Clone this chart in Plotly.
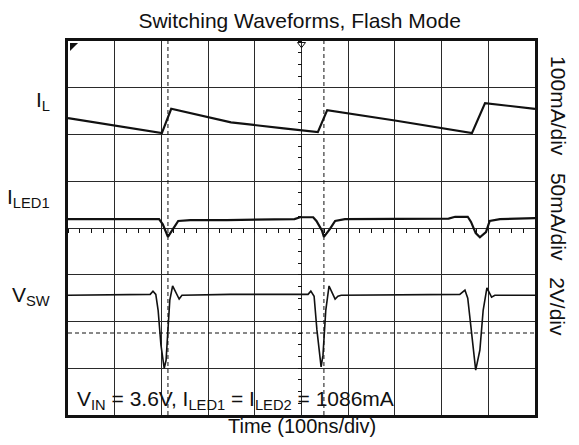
import plotly.graph_objects as go

FONT = "Liberation Sans, Arial, sans-serif"
INK = "#111111"

# screen divisions: 10 across (100ns/div), 8 up
il_t = [0.00, 2.01, 2.21, 3.49, 4.62, 5.35, 5.55, 7.00, 8.65, 8.93, 10.00]
il_v = [6.35, 6.03, 6.55, 6.26, 6.13, 6.05, 6.52, 6.30, 6.03, 6.67, 6.55]

led_t = [0.00, 1.95, 2.03, 2.14, 2.25, 2.36, 2.62, 3.40, 4.85, 4.97, 5.25,
         5.32, 5.44, 5.48, 5.61, 5.72, 5.93, 8.15, 8.29, 8.56, 8.63, 8.73,
         8.82, 8.95, 9.03, 9.25, 10.00]
led_v = [4.19, 4.19, 4.08, 3.81, 3.98, 4.15, 4.17, 4.17, 4.19, 4.23, 4.23,
         4.15, 3.94, 3.81, 3.98, 4.15, 4.19, 4.20, 4.24, 4.24, 4.13, 3.89,
         3.80, 3.91, 4.15, 4.19, 4.21]

sw_t = [0.00, 1.76, 1.82, 1.88, 1.93, 1.99, 2.06, 2.10, 2.14, 2.18, 2.24,
        2.29, 2.36, 2.38, 2.44, 3.47, 5.14, 5.20, 5.27, 5.33, 5.42, 5.46,
        5.52, 5.59, 5.65, 5.72, 5.78, 5.85, 8.39, 8.50, 8.56, 8.65, 8.73,
        8.82, 8.89, 8.97, 9.02, 9.07, 9.14, 10.00]
sw_v = [2.56, 2.58, 2.65, 2.58, 2.24, 1.50, 1.00, 1.17, 1.82, 2.46, 2.76,
        2.67, 2.52, 2.48, 2.56, 2.58, 2.58, 2.65, 2.54, 1.82, 1.03, 1.28,
        2.24, 2.76, 2.63, 2.48, 2.54, 2.56, 2.58, 2.67, 2.50, 1.71, 0.96,
        1.39, 2.24, 2.72, 2.63, 2.52, 2.56, 2.56]

cursor_t = [2.14, 5.48]
cursor_v = [1.754]

ch_marks = [6.35, 4.34, 0.75]

fig = go.Figure()

for t, v, w in [(il_t, il_v, 2.2), (led_t, led_v, 2.2), (sw_t, sw_v, 1.6)]:
    fig.add_trace(go.Scatter(x=t, y=v, mode="lines",
                             line=dict(color=INK, width=w),
                             showlegend=False, hoverinfo="skip"))

for c in cursor_t:
    fig.add_vline(x=c, line=dict(color=INK, width=1, dash="4px,3px"))
for c in cursor_v:
    fig.add_hline(y=c, line=dict(color=INK, width=1, dash="4px,3px"))

# channel reference arrows on the left edge
fig.add_trace(go.Scatter(x=[-0.06] * len(ch_marks), y=ch_marks, mode="markers",
                         marker=dict(symbol="triangle-right", size=7, color=INK),
                         cliponaxis=False, showlegend=False, hoverinfo="skip"))
# trigger markers
fig.add_trace(go.Scatter(x=[0.1], y=[7.9], mode="markers",
                         marker=dict(symbol="triangle-nw", size=9, color=INK),
                         cliponaxis=False, showlegend=False, hoverinfo="skip"))
fig.add_trace(go.Scatter(x=[5], y=[7.93], mode="markers",
                         marker=dict(symbol="triangle-down-open", size=7, color=INK,
                                     line=dict(width=1)),
                         cliponaxis=False, showlegend=False, hoverinfo="skip"))

# center crosshair axes with minor ticks
fig.add_trace(go.Scatter(x=[None], y=[None], xaxis="x2", yaxis="y2",
                         showlegend=False, hoverinfo="skip"))

grid = dict(showgrid=True, gridcolor="#2a2a2a", gridwidth=1, dtick=1,
            showticklabels=False, ticks="", zeroline=False,
            showline=True, linecolor=INK, linewidth=2.5, mirror=True,
            fixedrange=True)

fig.update_layout(
    width=563, height=429,
    margin=dict(l=60, r=36, t=33, b=22),
    paper_bgcolor="white", plot_bgcolor="white",
    font=dict(family=FONT, color=INK),
    title=dict(text="Switching Waveforms, Flash Mode", x=0.518, xanchor="center",
               y=0.97, yanchor="middle", font=dict(size=21, color=INK)),
    xaxis=dict(range=[0, 10], **grid),
    yaxis=dict(range=[0, 8], **grid),
    xaxis2=dict(range=[0, 10], overlaying="x", anchor="free", position=0.5,
                dtick=0.25, ticks="outside", ticklen=4, tickcolor=INK,
                showticklabels=False, showgrid=False, zeroline=False,
                showline=False, fixedrange=True),
    yaxis2=dict(range=[0, 8], overlaying="y", anchor="free", position=0.5,
                dtick=0.25, ticks="outside", ticklen=4, tickcolor=INK,
                showticklabels=False, showgrid=False, zeroline=False,
                showline=False, fixedrange=True),
)

left_labels = [("I<sub>L</sub>", 6.72), ("I<sub>LED1</sub>", 4.64), ("V<sub>SW</sub>", 2.54)]
for txt, yv in left_labels:
    fig.add_annotation(text=txt, xref="paper", x=-0.034, xanchor="right",
                       yref="y", y=yv, yanchor="middle", showarrow=False,
                       font=dict(size=21, color=INK))

right_labels = [("100mA/div", 6.61), ("50mA/div", 4.24), ("2V/div", 2.31)]
for txt, yv in right_labels:
    fig.add_annotation(text=txt, xref="paper", x=1.049, xanchor="center",
                       yref="y", y=yv, yanchor="middle", textangle=90,
                       showarrow=False, font=dict(size=21, color=INK))

fig.add_annotation(text="V<sub>IN</sub> = 3.6V, I<sub>LED1</sub> = I<sub>LED2</sub> = 1086mA",
                   xref="x", x=0.14, xanchor="left", yref="y", y=0.33,
                   yanchor="middle", showarrow=False, font=dict(size=21, color=INK))

fig.add_annotation(text="Time (100ns/div)", xref="paper", x=0.5, xanchor="center",
                   yref="paper", y=-0.03, yanchor="middle", showarrow=False,
                   font=dict(size=20, color=INK))

fig.write_html("out.html")
